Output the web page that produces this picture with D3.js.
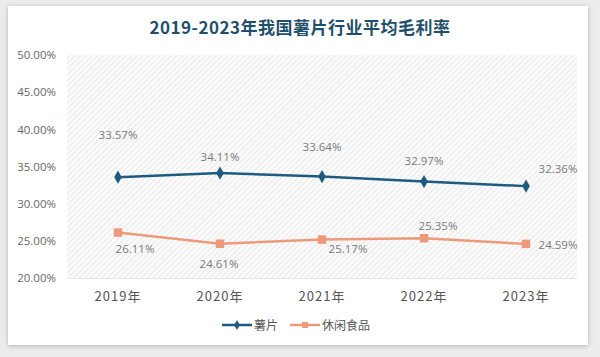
<!DOCTYPE html>
<html><head><meta charset="utf-8">
<script src="https://cdn.jsdelivr.net/npm/d3@7"></script>
<style>
html,body{margin:0;padding:0;background:#ececec;}
svg{display:block;}
</style></head>
<body>
<svg id="c" width="600" height="357"></svg>
<script>
const title = "2019-2023年我国薯片行业平均毛利率";
const categories = ["2019年","2020年","2021年","2022年","2023年"];
const seriesNames = ["薯片","休闲食品"];
const chips = [33.57, 34.11, 33.64, 32.97, 32.36];
const snacks = [26.11, 24.61, 25.17, 25.35, 24.59];
const yTicks = [20, 25, 30, 35, 40, 45, 50];
const colors = ["#1d5c7e", "#ec9a7a"];
// label offsets (dx, dy) relative to point, layout only
const chipsLabelOffsets = [[0,-42],[0,-16],[0,-30],[0,-21],[32,-17]];
const snacksLabelOffsets = [[17,16],[-1,20],[26,9],[14,-12],[32,1]];

(function(){
const svg = d3.select("#c");
const defs = svg.append("defs");
const f = defs.append("filter").attr("id","sh").attr("x","-5%").attr("y","-5%").attr("width","110%").attr("height","110%");
f.append("feGaussianBlur").attr("in","SourceAlpha").attr("stdDeviation",2.5);
f.append("feOffset").attr("dx",0).attr("dy",1).attr("result","b");
f.append("feComponentTransfer").append("feFuncA").attr("type","linear").attr("slope",0.25);
const m = f.append("feMerge"); m.append("feMergeNode"); m.append("feMergeNode").attr("in","SourceGraphic");
svg.append("rect").attr("x",8).attr("y",6).attr("width",580).attr("height",339).attr("fill","#fff").attr("filter","url(#sh)");

const pat = defs.append("pattern").attr("id","hatch").attr("patternUnits","userSpaceOnUse")
  .attr("width",4).attr("height",4).attr("patternTransform","rotate(45)");
pat.append("rect").attr("width",4).attr("height",4).attr("fill","#fafafa");
pat.append("line").attr("x1",0).attr("y1",0).attr("x2",0).attr("y2",4).attr("stroke","#e0e0e0").attr("stroke-width",1.2);

const pl = 67, pr = 577, pt = 55, pb = 278;
const x = d3.scaleBand().domain(categories).range([pl, pr]);
const y = d3.scaleLinear().domain([20, 50]).range([pb, pt]);

svg.append("rect").attr("x",pl).attr("y",pt).attr("width",pr-pl).attr("height",pb-pt).attr("fill","url(#hatch)");

svg.append("text").attr("x",300).attr("y",34).attr("text-anchor","middle")
  .attr("font-family","'Noto Sans CJK SC', 'Noto Sans', sans-serif").attr("font-weight","bold")
  .attr("font-size",17).attr("letter-spacing",0.5).attr("fill","#1f4f6a").text(title);

const ya = svg.append("g").attr("transform",`translate(${pl},0)`)
  .call(d3.axisLeft(y).tickValues(yTicks).tickSize(0).tickPadding(11).tickFormat(d => d.toFixed(2) + "%"));
ya.select(".domain").remove();
ya.selectAll("text").attr("font-family","'Open Sans', 'Noto Sans', sans-serif").attr("font-size",11.5).attr("fill","#666");

const xa = svg.append("g").attr("transform",`translate(0,${pb})`)
  .call(d3.axisBottom(x).tickSize(0).tickPadding(14));
xa.select(".domain").attr("stroke","#e6e6e6");
xa.selectAll("text").attr("font-family","'Noto Sans CJK SC', sans-serif").attr("font-size",13).attr("letter-spacing",1).attr("fill","#555");

const cx = d => x(d) + x.bandwidth()/2;
const line = d3.line().x((d,i) => cx(categories[i])).y(d => y(d));

const diamond = d3.symbol().type(d3.symbolDiamond).size(50);
const square = d3.symbol().type(d3.symbolSquare).size(72);

function drawSeries(vals, color, sym, offs) {
  svg.append("path").datum(vals).attr("d", line).attr("fill","none").attr("stroke",color).attr("stroke-width",2.5);
  svg.selectAll(null).data(vals).enter().append("path")
    .attr("d", sym).attr("transform",(d,i) => `translate(${cx(categories[i])},${y(d)})`).attr("fill",color);
  svg.selectAll(null).data(vals).enter().append("text")
    .attr("x",(d,i) => cx(categories[i]) + offs[i][0]).attr("y",(d,i) => y(d) + offs[i][1] + 4)
    .attr("text-anchor","middle").attr("font-family","'Open Sans', 'Noto Sans', sans-serif")
    .attr("font-size",11.5).attr("fill","#7a7a7a").text(d => d.toFixed(2) + "%");
}
drawSeries(chips, colors[0], diamond, chipsLabelOffsets);
drawSeries(snacks, colors[1], square, snacksLabelOffsets);

const lg = [{name: seriesNames[0], c: colors[0], s: d3.symbol().type(d3.symbolDiamond).size(30), x: 222},
            {name: seriesNames[1], c: colors[1], s: d3.symbol().type(d3.symbolSquare).size(36), x: 290}];
lg.forEach(l => {
  const g = svg.append("g").attr("transform",`translate(${l.x},325)`);
  g.append("line").attr("x1",0).attr("x2",30).attr("stroke",l.c).attr("stroke-width",2.5);
  g.append("path").attr("d",l.s).attr("transform","translate(15,0)").attr("fill",l.c);
  g.append("text").attr("x",32).attr("y",4.5).attr("font-family","'Noto Sans CJK SC', sans-serif")
    .attr("font-size",12).attr("fill","#555").text(l.name);
});
})();
</script>
</body></html>
